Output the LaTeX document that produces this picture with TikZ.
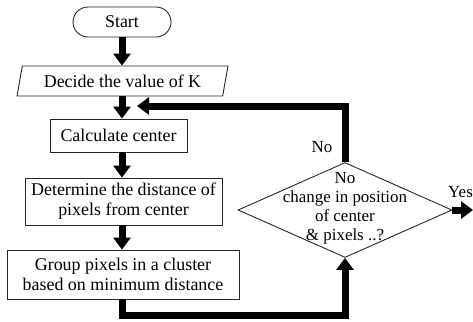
\documentclass[tikz,border=0pt]{standalone}
\usepackage{fontspec}
\setmainfont{Liberation Serif}
\usetikzlibrary{arrows.meta,shapes.geometric,shapes.misc}
\begin{document}
\begin{tikzpicture}[x=1bp,y=-1bp,
  every node/.style={font=\fontsize{18}{20}\selectfont, align=center, inner sep=0pt},
  shp/.style={draw=black!85, line width=0.9bp},
  flow/.style={line width=7bp, draw=black, line join=miter, -{Triangle[width=17bp,length=12bp]}}]
\useasboundingbox (0,0) rectangle (473,321);
\node[shp, rounded rectangle, minimum width=98bp, minimum height=30bp] (start) at (122,22) {Start};
\node[shp, trapezium, trapezium left angle=72, trapezium right angle=108, trapezium stretches=true, minimum width=211bp, minimum height=30bp] (decide) at (122.5,81) {Decide the value of K};
\node[shp, rectangle, minimum width=137bp, minimum height=33bp] (calc) at (118.5,135.5) {Calculate center};
\node[shp, rectangle, minimum width=197bp, minimum height=47bp] (dist) at (123.5,201.5) {Determine the distance of\\pixels from center};
\node[shp, rectangle, minimum width=232bp, minimum height=49bp] (group) at (123,274.5) {Group pixels in a cluster\\based on minimum distance};
\node[shp, diamond, minimum width=214bp, minimum height=95bp] (cond) at (345,210) {};
\node[font=\fontsize{17}{19}\selectfont] (condtext) at (345,208) {No\\change in position\\of center\\\& pixels ..?};
\node[font=\fontsize{17}{19}\selectfont] (nolabel) at (322,147) {No};
\node[anchor=west, font=\fontsize{17}{19}\selectfont] (yeslabel) at (448,192) {Yes};
\coordinate (fb) at (137,106);
\coordinate (bl) at (122,315);
\coordinate (yesend) at (473,210);
\draw[flow] (start.south) -- (start.south |- decide.north);
\draw[flow] (decide.south -| start.south) -- (calc.north -| start.south);
\draw[flow] (calc.south -| start.south) -- (dist.north -| start.south);
\draw[flow] (dist.south -| start.south) -- (group.north -| start.south);
\draw[flow] (cond.north) |- (fb);
\draw[flow] (group.south -| bl) -- (bl) -| (cond.south);
\draw[flow] (cond.east) -- (yesend);
\end{tikzpicture}
\end{document}
